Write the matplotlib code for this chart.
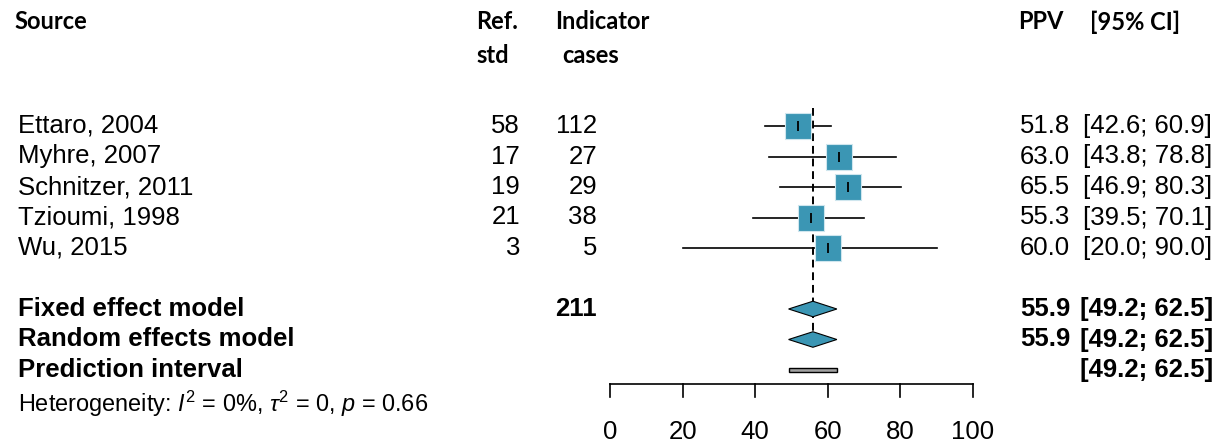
import matplotlib
matplotlib.use("Agg")
from matplotlib import pyplot as plt
from matplotlib import transforms
from matplotlib.patches import Polygon, Rectangle

studies = ["Ettaro, 2004", "Myhre, 2007", "Schnitzer, 2011", "Tzioumi, 1998", "Wu, 2015"]
ref_std = [58, 17, 19, 21, 3]
cases = [112, 27, 29, 38, 5]
ppv = [51.8, 63.0, 65.5, 55.3, 60.0]
ci_low = [42.6, 43.8, 46.9, 39.5, 20.0]
ci_high = [60.9, 78.8, 80.3, 70.1, 90.0]

total_cases = 211
pooled = 55.9
pooled_low = 49.2
pooled_high = 62.5
pred_low = 49.2
pred_high = 62.5
ticks = [0, 20, 40, 60, 80, 100]

TEAL = "#3b96b4"
BODY = "Liberation Sans"
HEAD = "Lato"

plt.rcParams["mathtext.fontset"] = "custom"
plt.rcParams["mathtext.rm"] = BODY
plt.rcParams["mathtext.it"] = BODY + ":italic"

W, H = 1221, 446
fig = plt.figure(figsize=(W / 100, H / 100), dpi=100)
ax = fig.add_axes([0, 0, 1, 1])
ax.axis("off")

# x: 0 -> px 610, 100 -> px 973 ; y: row units, 30.5 px per row, row 0 at px 126
x0, scale = 610, 3.63
ax.set_xlim(-x0 / scale, (W - x0) / scale)
row_h, row0 = 30.5, 126
ax.set_ylim((H - row0) / row_h, -row0 / row_h)

tf = transforms.blended_transform_factory(fig.transFigure, ax.transData)


def px(v):
    return v / W


fs = 18.5
# header
hk = dict(fontsize=17, fontweight="bold", family=HEAD, transform=tf, va="center")
ax.text(px(14), -3.41, "Source", **hk)
ax.text(px(476), -3.41, "Ref.", **hk)
ax.text(px(476), -2.3, "std", **hk)
ax.text(px(555), -3.41, "Indicator", **hk)
ax.text(px(562), -2.3, "cases", **hk)
ax.text(px(1018), -3.41, "PPV", **hk)
ax.text(px(1090), -3.41, "[95% CI]", **hk)

tk = dict(fontsize=fs, family=BODY, transform=tf, va="center")
for i, name in enumerate(studies):
    ax.text(px(18), i, name, ha="left", **tk)
    ax.text(px(520), i, str(ref_std[i]), ha="right", **tk)
    ax.text(px(597), i, str(cases[i]), ha="right", **tk)
    ax.text(px(1070), i, f"{ppv[i]:.1f}", ha="right", **tk)
    ax.text(px(1212), i, f"[{ci_low[i]:.1f}; {ci_high[i]:.1f}]", ha="right", **tk)
    ax.plot([ci_low[i], ci_high[i]], [i, i], color="black", lw=1.2, zorder=2)

ax.scatter(ppv, range(len(ppv)), marker="s", s=350, color=TEAL,
           edgecolors="#cfe6ee", linewidths=0.8, zorder=3)
ax.scatter(ppv, range(len(ppv)), marker="|", s=45, color="black", linewidths=1.3, zorder=4)

# pooled rows
bk = dict(tk, fontweight="bold")
ax.text(px(18), 6, "Fixed effect model", ha="left", **bk)
ax.text(px(18), 7, "Random effects model", ha="left", **bk)
ax.text(px(18), 8, "Prediction interval", ha="left", **bk)
ax.text(px(597), 6, str(total_cases), ha="right", **bk)
for r in (6, 7):
    ax.text(px(1070), r, f"{pooled:.1f}", ha="right", **bk)
    ax.text(px(1213), r, f"[{pooled_low:.1f}; {pooled_high:.1f}]", ha="right", **bk)
ax.text(px(1213), 8, f"[{pred_low:.1f}; {pred_high:.1f}]", ha="right", **bk)

ax.text(px(18), 9.12, r"Heterogeneity: $I^2$ = 0%, $\tau^2$ = 0, $p$ = 0.66",
        ha="left", fontsize=16.9, family=BODY, transform=tf, va="center")

# reference line
ax.plot([pooled, pooled], [-0.59, 6.75], color="black", lw=1.4, ls=(0, (4, 2.5)), zorder=1)

dh = 0.255
for r in (6, 7):
    ax.add_patch(Polygon([[pooled_low, r], [pooled, r - dh], [pooled_high, r], [pooled, r + dh]],
                         closed=True, facecolor=TEAL, edgecolor="black", lw=0.8, zorder=3))

ax.add_patch(Rectangle((pred_low, 8 - 0.07), pred_high - pred_low, 0.14,
                       facecolor="#a0a0a0", edgecolor="black", lw=1.0, zorder=3))

# x axis
ya, yt = 8.46, 8.885
ax.plot([ticks[0], ticks[-1]], [ya, ya], color="black", lw=1.2)
for t in ticks:
    ax.plot([t, t], [ya, yt], color="black", lw=1.2)
    ax.text(t, 10.02, str(t), ha="center", va="center", fontsize=fs, family=BODY)

fig.savefig("out.png", dpi=100)
